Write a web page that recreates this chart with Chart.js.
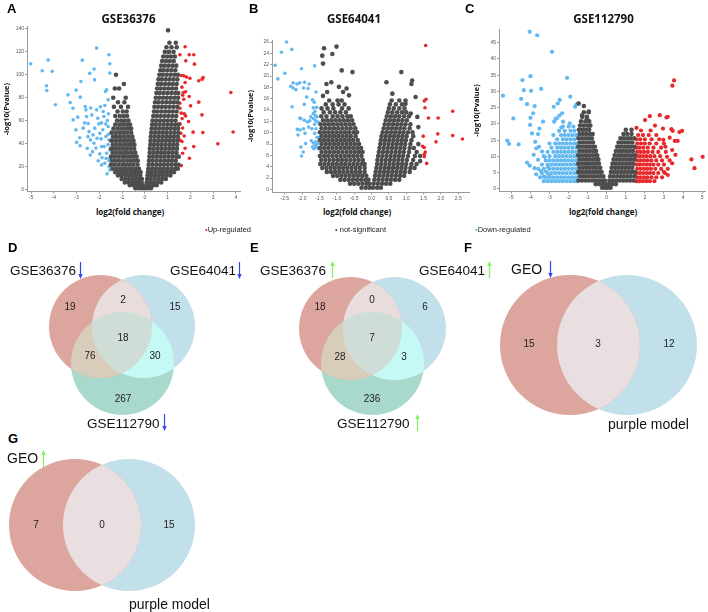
<!DOCTYPE html>
<html>
<head>
<meta charset="utf-8">
<script src="https://cdn.jsdelivr.net/npm/chart.js@4.4.0/dist/chart.umd.min.js"></script>
<style>
  body { margin: 0; width: 708px; height: 612px; position: relative; overflow: hidden; background: #fff; font-family: "Liberation Sans", Arial, sans-serif; }
  canvas { position: absolute; }
  .t { position: absolute; white-space: nowrap; line-height: 1; color: #1a1a1a; z-index: 2; }
  .letter { font: bold 13px "Liberation Sans", Arial, sans-serif; color: #000; }
  .vtitle { font: bold 11.5px "Open Sans", sans-serif; color: #111; }
  .xtitle { font: bold 8px "Open Sans", sans-serif; color: #111; }
  .legend { font: 7.5px "Liberation Sans", Arial, sans-serif; color: #222; }
  .setname { font: 13.5px "Liberation Sans", Arial, sans-serif; color: #111; }
  .geo { font: 14px "Liberation Sans", Arial, sans-serif; color: #111; }
  .arr { position: absolute; z-index: 2; }
</style>
</head>
<body>
<canvas id="cA" width="242" height="205" style="left:0;top:0"></canvas>
<canvas id="cB" width="230" height="205" style="left:242px;top:0"></canvas>
<canvas id="cC" width="236" height="205" style="left:472px;top:0"></canvas>
<canvas id="cD" width="240" height="190" style="left:0;top:230px"></canvas>
<canvas id="cE" width="240" height="190" style="left:240px;top:230px"></canvas>
<canvas id="cF" width="228" height="160" style="left:480px;top:265px"></canvas>
<canvas id="cG" width="210" height="150" style="left:0;top:450px"></canvas>
<script>
// ---- data ----
const studies = ['GSE36376', 'GSE64041', 'GSE112790'];
const legendLabels = ['Up-regulated', 'not-significant', 'Down-regulated'];
const geoSets = ['GEO', 'purple model'];

// Venn counts: [A only, A&B, B only, A&B&C, A&C, B&C, C only]
const vennDown3 = [19, 2, 15, 18, 76, 30, 267];
const vennUp3 = [18, 0, 6, 7, 28, 3, 236];
// [GEO only, both, purple model only]
const vennDown2 = [15, 3, 12];
const vennUp2 = [7, 0, 15];

// GSE36376 volcano: grey rows are [-log10 p, log2FC, log2FC, ...]
const greyA = [
  [1, -0.42,-0.28,-0.15,-0.05, 0.04,0.15,0.27],
  [3.5, -0.66,-0.5,-0.36,-0.22,-0.1, 0.07,0.22,0.38,0.52],
  [6, -0.88,-0.72,-0.57,-0.42,-0.29,-0.14, 0.08,0.24,0.4,0.56,0.72],
  [9, -1.02,-0.86,-0.7,-0.53,-0.38,-0.24,-0.13, 0.1,0.26,0.43,0.6,0.76,0.92],
  [12, -1.18,-1.02,-0.85,-0.69,-0.52,-0.36,-0.2, 0.12,0.28,0.45,0.62,0.79,0.96,1.12],
  [15, -1.3,-1.13,-0.96,-0.8,-0.63,-0.47,-0.3,-0.19, 0.14,0.3,0.47,0.64,0.8,0.97,1.14,1.28],
  [18, -1.42,-1.25,-1.08,-0.91,-0.74,-0.58,-0.42,-0.26, 0.15,0.32,0.49,0.66,0.83,1.0,1.17,1.34,1.45],
  [21.5, -1.49,-1.33,-1.16,-0.99,-0.83,-0.66,-0.5,-0.32, 0.17,0.33,0.5,0.67,0.84,1.01,1.18,1.35,1.48],
  [25, -1.44,-1.27,-1.1,-0.93,-0.76,-0.6,-0.44,-0.31, 0.18,0.34,0.51,0.68,0.85,1.02,1.19,1.36],
  [28.5, -1.49,-1.33,-1.16,-0.99,-0.83,-0.66,-0.5,-0.36, 0.2,0.36,0.53,0.7,0.87,1.04,1.21,1.38,1.49],
  [32, -1.42,-1.25,-1.08,-0.91,-0.75,-0.58,-0.42, 0.21,0.37,0.54,0.71,0.88,1.05,1.22,1.39],
  [35.5, -1.48,-1.32,-1.15,-0.98,-0.82,-0.65,-0.47, 0.22,0.39,0.56,0.73,0.9,1.07,1.24,1.41],
  [39, -1.41,-1.24,-1.07,-0.9,-0.73,-0.57,-0.46, 0.24,0.4,0.57,0.74,0.91,1.08,1.25,1.42],
  [42.5, -1.47,-1.3,-1.13,-0.96,-0.8,-0.64,-0.5, 0.25,0.42,0.59,0.76,0.93,1.1,1.27,1.44],
  [46, -1.4,-1.23,-1.06,-0.89,-0.72,-0.55, 0.26,0.43,0.6,0.77,0.94,1.11,1.28,1.45],
  [49.5, -1.46,-1.29,-1.12,-0.95,-0.78,-0.6, 0.28,0.45,0.62,0.79,0.96,1.13,1.3,1.47],
  [53, -1.38,-1.2,-1.03,-0.86,-0.7,-0.6, 0.3,0.46,0.63,0.8,0.97,1.14,1.31,1.46],
  [56.5, -1.3,-1.12,-0.95,-0.78,-0.65, 0.32,0.48,0.65,0.82,0.99,1.16,1.33,1.48],
  [60, -1.22,-1.04,-0.88,-0.72, 0.34,0.5,0.67,0.84,1.01,1.18,1.35],
  [64, -1.3,-1.1,-0.93,-0.78, 0.37,0.53,0.7,0.87,1.04,1.21,1.38],
  [68, -1.2,-0.97,-0.8, 0.4,0.55,0.72,0.89,1.06,1.23,1.4],
  [72, -1.36,-1.05,-0.74, 0.42,0.58,0.75,0.92,1.09,1.26,1.43],
  [76, -1.18,-0.9, 0.45,0.6,0.77,0.94,1.11,1.28,1.44],
  [80, -1.39,-0.84, 0.48,0.63,0.8,0.97,1.14,1.31,1.46],
  [84, 0.51,0.66,0.83,1.0,1.17,1.34,1.47],
  [88, -1.32,-1.13, 0.54,0.69,0.86,1.03,1.2,1.37],
  [92, -0.92, 0.57,0.72,0.89,1.06,1.23,1.4],
  [96, 0.6,0.75,0.92,1.09,1.26,1.43],
  [100, -1.27, 0.64,0.79,0.96,1.13,1.3,1.45],
  [104, 0.68,0.83,1.0,1.17,1.34],
  [108, 0.72,0.88,1.05,1.22,1.38],
  [112, 0.76,0.93,1.1,1.27],
  [116, 0.81,0.98,1.15,1.32],
  [120, 0.88,1.06,1.26],
  [124, 0.95,1.17,1.4],
  [128, 1.08,1.36],
  [138.8, 1.02]
];
const downA = [[-5.02,109.6],[-4.51,103.5],[-4.25,113],[-4.07,103],[-4.32,90.4],[-4.31,86.3],[-3.93,73.8],[-3.38,82.5],[-3.28,75.8],[-3.16,70.8],[-3.02,86.6],[-2.75,112.8],[-2.81,94.2],[-2.84,80.5],[-2.42,101.2],[-2.23,105],[-2.21,95.6],[-2.12,123.3],[-1.58,117.5],[-1.54,109.6],[-1.54,101.5],[-3.15,60.6],[-3.03,51.9],[-3.0,41],[-2.86,45],[-2.62,72.3],[-2.56,63.6],[-2.49,57.4],[-2.45,50.4],[-2.39,43.1],[-2.3,32.9],[-2.12,69.4],[-2.02,57.1],[-1.98,49],[-1.9,37.3],[-1.9,21.3],[-1.8,63.6],[-1.76,73.2],[-1.73,85.4],[-1.71,46.1],[-1.68,31.5],[-1.61,78.1],[-1.61,54.8],[-1.58,43.1],[-1.57,19.8],[-1.54,34.4],[-1.54,27.1],[-1.54,16.9],[-1.68,86.9],[-1.83,67.9],[-2.07,62.1],[-2.2,53.4],[-2.24,40.2],[-2.53,35.9],[-2.71,53.4],[-1.98,30.9],[-1.76,22.7],[-1.79,37.3],[-2.1,44.6],[-2.33,65],[-2.59,69.4],[-1.65,60],[-1.6,66],[-1.85,52],[-1.92,44],[-2.15,36],[-2.4,30],[-1.62,39],[-1.7,27],[-1.88,27.5],[-2.05,25],[-1.6,48],[-2.28,47.5],[-2.65,58],[-2.95,63],[-2.38,71],[-1.95,72],[-1.72,57],[-1.58,25],[-1.66,13.5],[-1.9,58],[-2.5,46],[-2.85,38]];
const upA = [[1.77,124.5],[1.54,117.5],[1.95,117.5],[2.15,117.5],[1.8,112.2],[2.18,109.3],[1.6,99.4],[1.71,99.1],[1.83,98],[1.98,97],[2.37,94.8],[2.56,97.7],[2.52,96.2],[1.77,93.3],[1.63,89.2],[1.69,84.5],[1.79,85.1],[1.66,82.2],[1.95,81],[1.71,78.7],[1.54,75.2],[2.37,76.1],[2.01,72.9],[1.54,70.8],[1.6,66.5],[1.73,65.9],[1.79,64.1],[1.64,61.8],[2.51,65],[1.92,59.2],[1.55,57.1],[1.66,53.6],[1.58,49],[2.12,49.9],[2.55,49.6],[1.73,46.6],[1.54,43.1],[1.63,41.7],[2.15,37.3],[1.77,35.9],[1.66,31.5],[1.96,27.1],[1.6,20.7],[3.21,39.7],[3.78,84.5],[3.88,50.1]];

// GSE64041 volcano
const greyB = [
  [0.3, -0.29,-0.17,-0.06, 0.04,0.16,0.27],
  [1.0, -0.62,-0.5,-0.38,-0.26,-0.14,-0.06, 0.06,0.18,0.3,0.42,0.54],
  [1.7, -0.9,-0.78,-0.66,-0.54,-0.42,-0.3,-0.18,-0.09, 0.08,0.2,0.32,0.44,0.56,0.68,0.8],
  [2.4, -1.11,-0.99,-0.87,-0.75,-0.63,-0.51,-0.39,-0.27,-0.15, 0.1,0.22,0.34,0.46,0.58,0.7,0.82,0.94],
  [3.1, -1.29,-1.17,-1.05,-0.93,-0.81,-0.69,-0.57,-0.45,-0.33,-0.2, 0.12,0.24,0.36,0.48,0.6,0.72,0.84,0.96,1.1],
  [3.8, -1.42,-1.3,-1.18,-1.06,-0.94,-0.82,-0.7,-0.58,-0.46,-0.34,-0.2, 0.14,0.26,0.38,0.5,0.62,0.74,0.86,0.98,1.12,1.24],
  [4.5, -1.48,-1.36,-1.24,-1.12,-1.0,-0.88,-0.76,-0.64,-0.52,-0.4,-0.28,-0.2, 0.16,0.28,0.4,0.52,0.64,0.76,0.88,1.0,1.15,1.3],
  [5.2, -1.45,-1.33,-1.21,-1.09,-0.97,-0.85,-0.73,-0.61,-0.49,-0.37,-0.25, 0.17,0.29,0.41,0.53,0.65,0.77,0.89,1.02,1.2],
  [5.9, -1.49,-1.37,-1.25,-1.13,-1.01,-0.89,-0.77,-0.65,-0.53,-0.41,-0.29, 0.19,0.31,0.43,0.55,0.67,0.79,0.91,1.05,1.25,1.4],
  [6.6, -1.44,-1.32,-1.2,-1.08,-0.96,-0.84,-0.72,-0.6,-0.48,-0.36,-0.26, 0.21,0.33,0.45,0.57,0.69,0.81,0.93,1.08,1.3],
  [7.3, -1.49,-1.37,-1.25,-1.13,-1.01,-0.89,-0.77,-0.65,-0.53,-0.41,-0.3, 0.23,0.35,0.47,0.59,0.71,0.83,0.95,1.1,1.22],
  [8.0, -1.44,-1.32,-1.2,-1.08,-0.96,-0.84,-0.72,-0.6,-0.48,-0.36, 0.25,0.37,0.49,0.61,0.73,0.85,0.97,1.12,1.35],
  [8.7, -1.49,-1.37,-1.25,-1.13,-1.01,-0.89,-0.77,-0.65,-0.53,-0.4, 0.27,0.39,0.51,0.63,0.75,0.87,0.99,1.15],
  [9.4, -1.44,-1.32,-1.2,-1.08,-0.96,-0.84,-0.72,-0.6,-0.46, 0.29,0.41,0.53,0.65,0.77,0.89,1.01,1.2],
  [10.1, -1.49,-1.37,-1.25,-1.13,-1.01,-0.89,-0.77,-0.65,-0.52,-0.42, 0.32,0.44,0.56,0.68,0.8,0.92,1.05,1.18],
  [10.8, -1.44,-1.32,-1.2,-1.08,-0.96,-0.84,-0.72,-0.6,-0.47, 0.35,0.47,0.59,0.71,0.83,0.95,1.1],
  [11.5, -1.47,-1.35,-1.23,-1.11,-0.99,-0.87,-0.75,-0.63,-0.52, 0.38,0.5,0.62,0.74,0.86,0.98,1.12],
  [12.2, -1.4,-1.28,-1.16,-1.04,-0.92,-0.8,-0.68,-0.56, 0.41,0.53,0.65,0.77,0.89,1.02],
  [12.9, -1.45,-1.3,-1.12,-0.98,-0.84,-0.7,-0.6, 0.44,0.56,0.68,0.8,0.94,1.08],
  [13.6, -1.38,-1.2,-1.05,-0.9,-0.74, 0.47,0.6,0.74,0.88,1.0],
  [14.3, -1.44,-1.27,-1.1,-0.85,-0.66, 0.5,0.64,0.8,0.95],
  [15.0, -1.32,-1.12,-0.95,-0.78, 0.53,0.7,0.88],
  [15.7, -1.22,-0.98,-0.86, 0.58,0.8,0.98]
];
const greyB2 = [[-1.4,16.5],[-0.65,16.6],[-0.82,17.2],[-1.28,17.2],[-0.72,17.8],[-0.94,18.1],[-1.3,18.6],[-1.16,18.9],[-0.55,20.7],[-0.86,21.0],[-1.4,22.2],[-1.42,23.6],[-1.13,23.9],[-1.37,24.9],[-1.01,25.2],[0.6,16.9],[1.27,16.3],[0.43,18.9],[1.15,18.6],[1.17,19.2],[0.86,20.7],[1.35,11],[1.13,13.4],[1.32,12.8],[0.98,15.1],[1.4,5]];
const downB = [[-2.78,21.9],[-2.7,19.5],[-2.6,24.2],[-2.45,26],[-2.5,20.5],[-2.3,24.7],[-2.33,18.2],[-2.26,17.9],[-2.26,18.8],[-2.18,17.6],[-2.15,18.6],[-2.07,18.8],[-2.02,21.3],[-1.96,17.9],[-1.93,18.9],[-1.83,17.8],[-1.8,18.6],[-1.64,21.8],[-2.29,14.6],[-1.94,15],[-1.87,16.3],[-1.7,15.8],[-1.65,15.4],[-1.6,17.2],[-1.68,14.4],[-1.63,13.8],[-1.68,13.4],[-1.62,13.1],[-1.58,14.5],[-2.04,12.5],[-1.94,12.2],[-1.85,11.9],[-1.78,12.1],[-2.07,12.6],[-1.75,12.8],[-1.68,12.5],[-1.61,12.1],[-1.64,11.5],[-2.14,10.6],[-2.06,10.5],[-1.96,10.7],[-1.92,9.9],[-2.12,9.6],[-1.81,11],[-1.72,10.7],[-1.64,9.9],[-1.6,10.7],[-1.57,9.2],[-1.74,8.6],[-1.68,8.2],[-1.62,7.8],[-1.58,7.5],[-1.53,7.2],[-1.7,7.5],[-1.66,7.2],[-1.61,8.4],[-1.55,8.1],[-1.9,8.1],[-2.04,7.5],[-1.97,6.6],[-2.02,5.9],[-1.51,9.2],[-1.54,11.9],[-1.58,12.8]];
const upB = [[1.56,25.4],[1.57,15.9],[1.52,15.6],[1.54,14.4],[1.64,12.6],[1.92,12.6],[2.34,13.8],[1.49,9.4],[1.91,9.8],[1.86,8.4],[2.34,9.5],[2.62,8.9],[1.47,7.6],[1.52,7.4],[1.55,6.6],[1.52,5.8],[1.52,6.2],[1.59,4.6]];

// GSE112790 volcano
const greyC = [
  [0.4, -0.24,-0.08, 0.05,0.2],
  [1.5, -0.58,-0.4,-0.22,-0.06, 0.12,0.3,0.48],
  [2.6, -1.48,-1.3,-1.12,-0.94,-0.76,-0.58,-0.4,-0.22,-0.1, 0.14,0.32,0.5,0.68,0.86,1.04,1.22,1.4],
  [3.9, -1.4,-1.22,-1.04,-0.86,-0.68,-0.5,-0.32,-0.18, 0.18,0.36,0.54,0.72,0.9,1.08,1.26,1.46],
  [5.2, -1.49,-1.31,-1.13,-0.95,-0.77,-0.59,-0.41,-0.27, 0.22,0.4,0.58,0.76,0.94,1.12,1.3,1.48],
  [6.5, -1.42,-1.24,-1.06,-0.88,-0.7,-0.52,-0.34, 0.26,0.44,0.62,0.8,0.98,1.16,1.34],
  [7.8, -1.49,-1.31,-1.13,-0.95,-0.77,-0.59,-0.41, 0.3,0.48,0.66,0.84,1.02,1.2,1.38],
  [9.1, -1.42,-1.24,-1.06,-0.88,-0.7,-0.52,-0.44, 0.36,0.54,0.72,0.9,1.08,1.26,1.44],
  [10.4, -1.49,-1.31,-1.13,-0.95,-0.77,-0.6,-0.5, 0.42,0.6,0.78,0.96,1.14,1.32,1.48],
  [11.7, -1.42,-1.24,-1.06,-0.88,-0.7,-0.56, 0.48,0.66,0.84,1.02,1.2,1.38],
  [13.0, -1.49,-1.31,-1.13,-0.95,-0.77,-0.62, 0.55,0.73,0.91,1.09,1.27,1.45],
  [14.3, -1.42,-1.24,-1.06,-0.88,-0.72, 0.62,0.8,0.98,1.16,1.34],
  [15.6, -1.48,-1.3,-1.12,-0.94,-0.78, 0.72,0.9,1.08,1.26,1.44],
  [16.9, -1.42,-1.24,-1.06,-0.88,-0.74, 0.88,1.08,1.3],
  [18.2, -1.46,-1.28,-1.1,-0.92, 1.0,1.3],
  [19.5, -1.4,-1.2,-1.0,-0.86],
  [20.8, -1.35,-1.12,-0.92],
  [22.2, -1.28,-1.04],
  [23.6, -1.2,-0.95]
];
const greyC2 = [[-0.94,23.8],[-1.29,22.7],[-1.03,21.7],[-1.47,26.3],[-1.2,25.5]];
const downCrows = [
  [2.4, -3.3,-3.1,-2.9,-2.7,-2.5,-2.3,-2.1,-1.9,-1.7,-1.55],
  [3.6, -3.5,-3.2,-3.0,-2.8,-2.6,-2.4,-2.2,-2.0,-1.8,-1.6],
  [4.9, -3.4,-3.1,-2.9,-2.7,-2.5,-2.3,-2.1,-1.9,-1.7,-1.55],
  [6.2, -3.6,-3.3,-3.0,-2.8,-2.6,-2.4,-2.2,-2.0,-1.8,-1.6],
  [7.5, -3.4,-3.1,-2.9,-2.7,-2.5,-2.3,-2.1,-1.9,-1.7,-1.55],
  [8.8, -3.2,-3.0,-2.8,-2.6,-2.4,-2.2,-2.0,-1.8,-1.6],
  [10.1, -3.3,-3.0,-2.7,-2.5,-2.3,-2.1,-1.9,-1.7,-1.55],
  [11.4, -3.1,-2.8,-2.6,-2.4,-2.2,-2.0,-1.8,-1.6],
  [12.7, -2.9,-2.6,-2.4,-2.2,-2.0,-1.8,-1.6],
  [14.0, -3.0,-2.7,-2.5,-2.3,-2.1,-1.9,-1.7,-1.55],
  [15.3, -2.6,-2.3,-2.1,-1.9,-1.7],
  [16.6, -2.8,-2.4,-2.2,-2.0,-1.8,-1.6],
  [17.9, -2.5,-2.2,-1.9,-1.7],
  [19.2, -2.3,-2.0,-1.75]
];
const downC = [[-5.44,28.7],[-5.21,14.9],[-5.12,13.9],[-4.9,21.7],[-4.62,13.7],[-4.49,27.7],[-4.42,33.5],[-4.35,30.4],[-4.18,26.1],[-4.04,48.4],[-4.0,34.7],[-3.97,30.2],[-4.02,19.7],[-4.0,21.9],[-4.18,8.1],[-4.04,7.2],[-3.86,23.3],[-3.92,17.1],[-3.83,10.5],[-3.79,6.4],[-3.78,25.5],[-3.65,47.3],[-3.6,16.9],[-3.55,13],[-3.44,30.8],[-3.39,11.5],[-3.53,18.6],[-3.69,12.5],[-3.34,20.7],[-2.87,42.2],[-2.78,25.3],[-2.69,21.5],[-2.76,20.7],[-2.62,21.7],[-2.57,26.3],[-2.47,27.4],[-2.48,22.6],[-2.38,18.9],[-2.29,20.7],[-2.08,34.2],[-1.91,28.4],[-1.94,20.2],[-2.34,23.3],[-1.59,26],[-1.66,25.3],[-1.52,26.3],[-3.25,9.9],[-3.08,6.7],[-3.18,5.3],[-3.3,3.8],[-3.01,4],[-3.75,14.5],[-3.6,9],[-3.45,5.5],[-3.7,4.5]];
const upCrows = [
  [2.4, 1.55,1.72,1.9,2.08,2.26,2.5],
  [3.6, 1.6,1.78,1.96,2.14,2.35,2.6,2.9],
  [4.9, 1.55,1.72,1.9,2.08,2.26,2.45,2.7,3.05],
  [6.2, 1.6,1.78,1.96,2.14,2.32,2.55,2.85,3.2],
  [7.5, 1.55,1.72,1.9,2.08,2.26,2.45,2.7,3.0],
  [8.8, 1.6,1.78,1.96,2.14,2.34,2.6,2.9,3.3],
  [10.1, 1.55,1.72,1.9,2.08,2.28,2.5,2.8],
  [11.4, 1.6,1.78,1.96,2.16,2.4,2.7,3.1],
  [12.7, 1.55,1.72,1.92,2.15,2.45,2.85],
  [14.0, 1.6,1.8,2.0,2.25,2.6,3.0],
  [15.3, 1.55,1.75,2.0,2.35,2.75],
  [16.6, 1.65,1.9,2.2,2.6],
  [18.0, 1.8,2.3]
];
const upC = [[4.44,9.1],[4.6,6.4],[5.03,9.9],[3.53,33.4],[3.44,31.8],[2.78,22.7],[3.13,22],[3.2,22.2],[2.26,22.4],[2.01,21.2],[2.53,19.5],[1.56,18.8],[2.95,18.6],[3.39,18.4],[3.95,17.9],[3.81,17.5],[3.46,17.9],[3.72,14.8],[3.57,14.8],[3.43,12],[2.97,15.1],[3.08,13],[3.16,9.9],[3.43,7.9],[2.99,5.3],[3.2,4.3],[3.6,10.5],[3.3,15.8]];

// ---- styling ----
const RED = '#e8282b', GREY = '#4d4d4d', BLUE = '#62b8f0', AXIS = '#9a9a9a';
Chart.defaults.font.family = '"Liberation Sans", Arial, sans-serif';

const rowsToPts = rows => rows.flatMap(r => r.slice(1).map(x => ({x: x, y: r[0]})));
const pairsToPts = a => a.map(p => ({x: p[0], y: p[1]}));

function volcano(id, box, ax, grey, down, up) {
  const ds = (data, color, r) => ({data: data, backgroundColor: color, pointRadius: r, pointBorderWidth: 0, borderWidth: 0, clip: false});
  const xticks = {stepSize: ax.xstep, includeBounds: false, autoSkip: false, maxRotation: 0, padding: 1.5, font: {size: 5}, color: '#555'};
  if (ax.xdec) xticks.callback = v => v.toFixed(ax.xdec);
  new Chart(document.getElementById(id), {
    type: 'scatter',
    data: {datasets: [ds(grey, GREY, 2.3), ds(down, BLUE, box.pr), ds(up, RED, box.pr)]},
    options: {
      responsive: false, animation: false, events: [],
      plugins: {legend: {display: false}, tooltip: {enabled: false}},
      layout: {autoPadding: false, padding: {left: 0, top: box.top, right: box.right, bottom: 0}},
      scales: {
        x: {type: 'linear', min: ax.xmin, max: ax.xmax,
            afterFit: s => { s.height = box.xh; },
            border: {color: AXIS}, grid: {drawOnChartArea: false, tickLength: 2, color: AXIS},
            ticks: xticks},
        y: {type: 'linear', min: ax.ymin, max: ax.ymax,
            afterFit: s => { s.width = box.yw; },
            border: {color: AXIS}, grid: {drawOnChartArea: false, tickLength: 2, color: AXIS},
            ticks: {stepSize: ax.ystep, includeBounds: false, autoSkip: false, padding: 1, font: {size: 5}, color: '#555'},
            title: {display: true, text: '-log10(Pvalue)', color: '#111',
                    font: {family: '"Open Sans", sans-serif', size: 7.5, weight: 'bold'},
                    padding: {top: box.tp, bottom: 0}}}
      }
    }
  });
}

volcano('cA', {top: 26.7, right: 1.6, xh: 13.4, yw: 27, tp: 2, pr: 1.8},
  {xmin: -5.18, xmax: 4.2, xstep: 1, ymin: -2, ymax: 142, ystep: 20},
  rowsToPts(greyA), pairsToPts(downA), pairsToPts(upA));
volcano('cB', {top: 40, right: 3, xh: 12.7, yw: 30, tp: 4, pr: 1.8},
  {xmin: -2.87, xmax: 2.81, xstep: 0.5, xdec: 1, ymin: -0.5, ymax: 26.36, ystep: 2},
  rowsToPts(greyB).concat(pairsToPts(greyB2)), pairsToPts(downB), pairsToPts(upB));
volcano('cC', {top: 29.4, right: 2.1, xh: 13.4, yw: 27, tp: 0.5, pr: 2.1},
  {xmin: -5.65, xmax: 5.2, xstep: 1, ymin: -0.8, ymax: 49.1, ystep: 5},
  rowsToPts(greyC).concat(pairsToPts(greyC2)), rowsToPts(downCrows).concat(pairsToPts(downC)),
  rowsToPts(upCrows).concat(pairsToPts(upC)));

// ---- Venn diagrams ----
const vennPlugin = {
  id: 'vennRegions',
  afterDatasetsDraw(chart, args, opts) {
    const ctx = chart.ctx;
    const circ = chart.data.datasets.map((d, i) => {
      const el = chart.getDatasetMeta(i).data[0];
      return {x: el.x, y: el.y, r: d.pointRadius};
    });
    opts.overlaps.forEach(o => {
      ctx.save();
      o.sets.forEach(k => { ctx.beginPath(); ctx.arc(circ[k].x, circ[k].y, circ[k].r, 0, Math.PI * 2); ctx.clip(); });
      ctx.fillStyle = o.color;
      ctx.fillRect(0, 0, chart.width, chart.height);
      ctx.restore();
    });
    ctx.save();
    ctx.font = '10px "Liberation Sans", Arial, sans-serif';
    ctx.fillStyle = '#222';
    ctx.textAlign = 'center';
    ctx.textBaseline = 'middle';
    opts.counts.forEach((c, i) => {
      const p = opts.spots[i];
      ctx.fillText(String(c), chart.scales.x.getPixelForValue(p[0]), chart.scales.y.getPixelForValue(p[1]));
    });
    ctx.restore();
  }
};

const VRED = '#dca69f', VBLUE = '#c2e0ea', VGREEN = '#a9d9cc';
function venn(id, w, h, centers, r, counts, spots) {
  const cols = [VRED, VBLUE, VGREEN];
  const overlaps = centers.length === 3
    ? [{sets: [0, 1], color: '#e9dcdd'}, {sets: [0, 2], color: '#d8cdbb'}, {sets: [1, 2], color: '#c5f9f6'}, {sets: [0, 1, 2], color: '#d0ddd6'}]
    : [{sets: [0, 1], color: '#eadfe0'}];
  new Chart(document.getElementById(id), {
    type: 'scatter',
    data: {datasets: centers.map((c, i) => ({data: [{x: c[0], y: c[1]}], pointRadius: r, pointHoverRadius: r,
      backgroundColor: cols[i], pointBorderWidth: 0, borderWidth: 0, clip: false}))},
    options: {
      responsive: false, animation: false, events: [],
      layout: {autoPadding: false, padding: 0},
      plugins: {legend: {display: false}, tooltip: {enabled: false},
                vennRegions: {overlaps: overlaps, counts: counts, spots: spots}},
      scales: {x: {type: 'linear', min: 0, max: w, display: false},
               y: {type: 'linear', min: 0, max: h, reverse: true, display: false}}
    },
    plugins: [vennPlugin]
  });
}

venn('cD', 240, 190, [[100.5, 96.5], [143.5, 96.5], [122.5, 133.5]], 51.5, vennDown3,
  [[70, 77], [123, 70], [175, 77], [123, 108], [90, 126], [155, 126], [123, 169]]);
venn('cE', 240, 190, [[110.5, 98.5], [154.5, 98.5], [132.5, 133.5]], 51.5, vennUp3,
  [[80, 77], [132, 70], [185, 77], [132, 108], [100, 127], [164, 127], [132, 169]]);
venn('cF', 228, 160, [[90, 80], [147, 80]], 70, vennDown2, [[49, 79], [118, 79], [189, 79]]);
venn('cG', 210, 150, [[75, 75], [129, 75]], 66, vennUp2, [[36, 75], [102, 75], [169, 75]]);

// ---- text & arrows ----
function label(text, x, y, cls, center) {
  const d = document.createElement('div');
  d.className = 't ' + cls;
  d.textContent = text;
  d.style.left = x + 'px';
  d.style.top = y + 'px';
  d.style.transform = center ? 'translate(-50%,-50%)' : 'translateY(-50%)';
  document.body.appendChild(d);
  return d;
}
[['A', 7, 8], ['B', 249, 8], ['C', 465, 8], ['D', 8, 247], ['E', 250, 247], ['F', 464, 247], ['G', 8, 438]]
  .forEach(l => label(l[0], l[1], l[2], 'letter'));
[128.5, 354, 603.5].forEach((x, i) => label(studies[i], x, 17.5, 'vtitle', true));
[130, 357, 603].forEach(x => label('log2(fold change)', x, 211, 'xtitle', true));

const legendCols = [RED, GREY, BLUE];
[205, 335, 475].forEach((x, i) => {
  const d = label('', x, 229, 'legend');
  const dot = document.createElement('span');
  dot.textContent = i === 1 ? '• ' : '•';
  dot.style.color = legendCols[i];
  d.appendChild(dot);
  d.appendChild(document.createTextNode(legendLabels[i]));
});

label(studies[0], 10, 270, 'setname'); label(studies[1], 170, 270, 'setname'); label(studies[2], 87, 423, 'setname');
label(studies[0], 260, 270, 'setname'); label(studies[1], 419, 270, 'setname'); label(studies[2], 337, 423, 'setname');
label(geoSets[0], 511, 269, 'geo'); label(geoSets[1], 608, 424, 'geo');
label(geoSets[0], 7, 458, 'geo'); label(geoSets[1], 129, 604, 'geo');

function arrow(x, top, up, color) {
  const s = document.createElementNS('http://www.w3.org/2000/svg', 'svg');
  s.setAttribute('width', 7); s.setAttribute('height', 17);
  s.setAttribute('class', 'arr');
  s.style.left = (x - 3.5) + 'px'; s.style.top = top + 'px';
  s.innerHTML = up
    ? '<line x1="3.5" y1="3" x2="3.5" y2="17" stroke="' + color + '" stroke-width="1.2"/><path d="M1.3 5 L3.5 0 L5.7 5 Z" fill="' + color + '"/>'
    : '<line x1="3.5" y1="0" x2="3.5" y2="14" stroke="' + color + '" stroke-width="1.2"/><path d="M1.3 12 L3.5 17 L5.7 12 Z" fill="' + color + '"/>';
  document.body.appendChild(s);
}
const DOWN = '#3344f5', UP = '#7ef05a';
arrow(80, 262, false, DOWN); arrow(239, 262, false, DOWN); arrow(164, 414, false, DOWN);
arrow(332, 261, true, UP); arrow(489, 261, true, UP); arrow(417, 414, true, UP);
arrow(550, 261, false, DOWN);
arrow(43, 450, true, UP);
</script>
</body>
</html>
